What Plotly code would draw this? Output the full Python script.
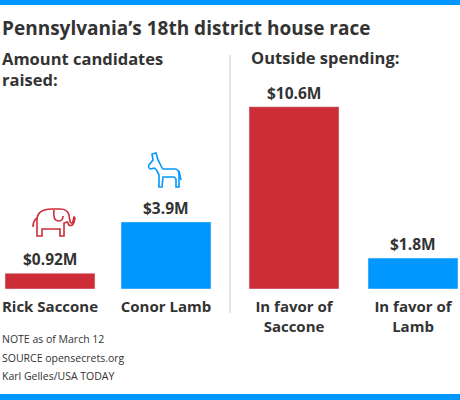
import re
import plotly.graph_objects as go

# ---- data ----
cand_names = ["Rick Saccone", "Conor Lamb"]
cand_raised = [0.92, 3.9]
cand_labels = ["$0.92M", "$3.9M"]

outside_names = ["In favor of<br>Saccone", "In favor of<br>Lamb"]
outside_spent = [10.6, 1.8]
outside_labels = ["$10.6M", "$1.8M"]

RED = "#CC2D37"
BLUE = "#0098FF"
TXT = "#333333"
HEAD_FONT = "Open Sans"
NOTE_FONT = "Open Sans"

W, H = 460, 400
BASE = 289          # baseline pixel row (plot area bottom)
PXM = 17.2          # pixels per $1M

def px(x):
    return x / W

def py(y):
    return (BASE - y) / BASE

def tr(path, ox, oy, s=1.0):
    def rep(m):
        x = float(m.group(1)); y = float(m.group(2))
        return f"{px(ox + s * x):.5f},{py(oy + s * y):.5f}"
    return re.sub(r"(-?\d+\.?\d*),(-?\d+\.?\d*)", rep, path)

fig = go.Figure()
fig.add_trace(go.Bar(x=cand_names, y=cand_raised, marker_color=[RED, BLUE],
                     width=90 / 116, xaxis="x", yaxis="y", hoverinfo="skip"))
fig.add_trace(go.Bar(x=outside_names, y=outside_spent, marker_color=[RED, BLUE],
                     width=90 / 119, xaxis="x2", yaxis="y", hoverinfo="skip"))

annos = []
for n, v, l in zip(cand_names, cand_raised, cand_labels):
    annos.append(dict(x=n, y=v, xref="x", yref="y", text=l, showarrow=False,
                      yanchor="bottom", yshift=1,
                      font=dict(family=HEAD_FONT, size=15.5, weight=700, color=TXT)))
for n, v, l in zip(outside_names, outside_spent, outside_labels):
    annos.append(dict(x=n, y=v, xref="x2", yref="y", text=l, showarrow=False,
                      yanchor="bottom", yshift=1,
                      font=dict(family=HEAD_FONT, size=15.5, weight=700, color=TXT)))

def text(x, y, t, size, weight=700, family=HEAD_FONT):
    annos.append(dict(x=px(x), y=py(y), xref="paper", yref="paper", text=t,
                      showarrow=False, xanchor="left", yanchor="middle", align="left",
                      font=dict(family=family, size=size, weight=weight, color=TXT)))

text(0, 28, "Pennsylvania\u2019s 18th district house race", 19)
text(0, 69, "Amount candidates<br>raised:", 16.5)
text(249, 58, "Outside spending:", 16.5)
text(0, 339, "NOTE as of March 12", 10.5, 400, NOTE_FONT)
text(0, 358, "SOURCE opensecrets.org", 10.5, 400, NOTE_FONT)
text(0, 376, "Karl Gelles/USA TODAY", 10.5, 400, NOTE_FONT)

elephant_body = ("M 5,28 L 5,12 C 5,4 11,1 20,1 L 28,1 C 33,1 36,3 37,7 L 38,13 "
                 "C 38.5,16 40,16 41,13 L 42,9 L 43,10 L 42,14 C 41,18 37,19 36,15 "
                 "L 35.5,14 L 32,15 L 32,28 L 28,28 L 28,21 L 10,21 L 10,28 Z")
elephant_ear = "M 22,2 C 21,8 22,13 27,13 C 30,13 31,10 31,8"
elephant_tail = "M 5,10 C 2,12 1,16 1,19"

donkey_body = ("M 8,0 L 10,7 C 12,10 13,14 15,16 L 27,16 C 30,16 31,18 31,22 "
               "L 31,34 L 28,34 L 28,26 L 26,24 L 15,24 L 14,34 L 11,34 L 11,22 "
               "C 10,20 9,16 6,15 L 3,16 C 1,16 0,14 1,12 L 5,7 L 4,1 Z")
donkey_tail = "M 31,18 L 33,27"

shapes = [
    dict(type="rect", xref="paper", yref="paper", x0=0, x1=1, y0=py(0), y1=py(5),
         fillcolor=BLUE, line_width=0),
    dict(type="rect", xref="paper", yref="paper", x0=0, x1=1, y0=py(394), y1=py(400),
         fillcolor=BLUE, line_width=0),
    dict(type="line", xref="paper", yref="paper", x0=px(230), x1=px(230),
         y0=py(55), y1=py(313), line=dict(color="#DDDDDD", width=1.5)),
]
for p in (elephant_body, elephant_ear, elephant_tail):
    shapes.append(dict(type="path", xref="paper", yref="paper", path=tr(p, 32, 208),
                       line=dict(color=RED, width=1.6)))
for p in (donkey_body, donkey_tail):
    shapes.append(dict(type="path", xref="paper", yref="paper", path=tr(p, 148, 153),
                       line=dict(color=BLUE, width=1.6)))

axis_common = dict(type="category", showgrid=False, zeroline=False, showline=False,
                   ticks="", ticklabelstandoff=7,
                   tickfont=dict(family=HEAD_FONT, size=15, weight=700, color=TXT),
                   fixedrange=True)
fig.update_layout(
    width=W, height=H,
    margin=dict(l=0, r=0, t=0, b=H - BASE, pad=0),
    paper_bgcolor="white", plot_bgcolor="white",
    showlegend=False,
    xaxis=dict(domain=[0, 0.5], range=[-50 / 116, -50 / 116 + 230 / 116],
               anchor="y", **axis_common),
    xaxis2=dict(domain=[0.5, 1], range=[-64 / 119, -64 / 119 + 230 / 119],
                anchor="y", **axis_common),
    yaxis=dict(range=[0, BASE / PXM], visible=False, fixedrange=True),
    annotations=annos,
    shapes=shapes,
)
fig.write_html("out.html", config={"displayModeBar": False},
               post_script="document.body.style.margin='0';document.body.style.overflow='hidden';")
